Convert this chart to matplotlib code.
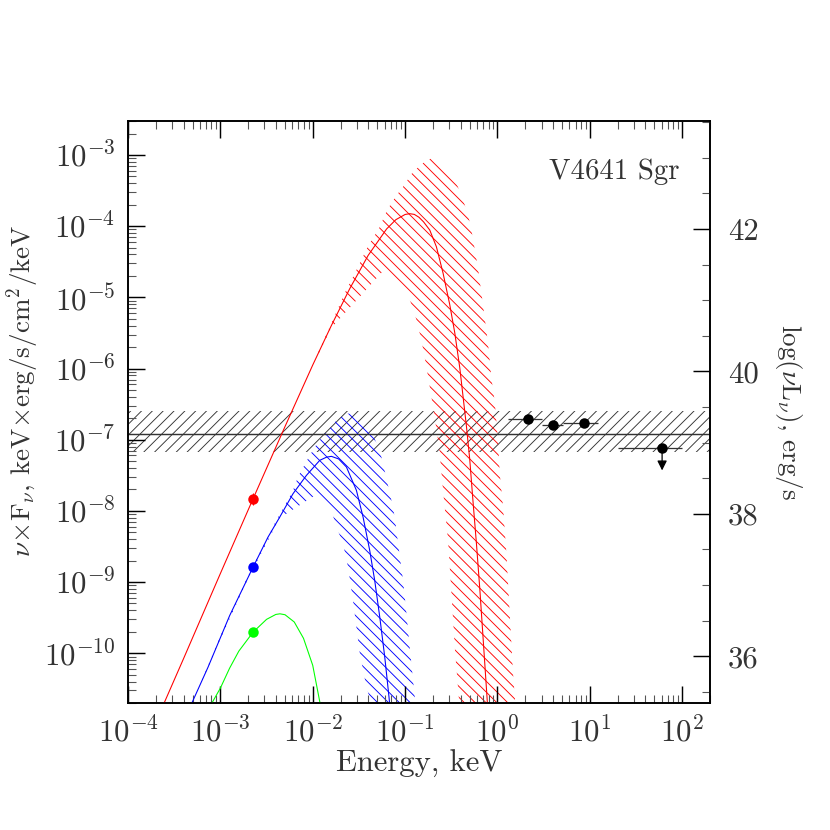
import numpy as np
import matplotlib
matplotlib.use('Agg')
import matplotlib.pyplot as plt
from matplotlib.ticker import FixedLocator, LogLocator, MultipleLocator, FuncFormatter, NullFormatter

plt.rcParams['font.family'] = ['cmr10']
plt.rcParams['mathtext.fontset'] = 'cm'
plt.rcParams['axes.formatter.use_mathtext'] = True
plt.rcParams['hatch.linewidth'] = 0.5

# ---------------- data (log10 values) ----------------
red_curve_logE = [-3.7, -3.4, -3.0, -2.646, -2.3, -2.0, -1.8, -1.6, -1.4, -1.2, -1.1, -1.0,
                  -0.95, -0.9, -0.85, -0.8, -0.733, -0.661, -0.589, -0.517, -0.462, -0.408,
                  -0.372, -0.336, -0.300, -0.264, -0.227, -0.191, -0.156, -0.113, -0.09]
red_curve_logF = [-10.97, -10.08, -8.88, -7.83, -6.815, -5.951, -5.401, -4.88, -4.411, -4.039,
                  -3.909, -3.836, -3.825, -3.835, -3.875, -3.94, -4.055, -4.29, -4.66, -5.10,
                  -5.50, -5.99, -6.40, -6.81, -7.28, -7.88, -8.47, -9.10, -9.78, -10.62, -11.1]

blue_curve_logE = [-3.45, -3.313, -3.134, -2.899, -2.646, -2.484, -2.357, -2.213, -2.068, -1.924,
                   -1.85, -1.798, -1.72, -1.635, -1.527, -1.455, -1.383, -1.329, -1.274, -1.220,
                   -1.174, -1.15]
blue_curve_logF = [-11.11, -10.712, -10.197, -9.470, -8.790, -8.368, -8.087, -7.758, -7.501, -7.290,
                   -7.245, -7.234, -7.27, -7.384, -7.712, -8.087, -8.556, -8.977, -9.494, -10.056,
                   -10.619, -10.95]

green_curve_logE = [-3.15, -3.097, -3.0, -2.9, -2.8, -2.646, -2.5, -2.4, -2.355, -2.3, -2.2,
                    -2.1, -2.0, -1.924, -1.9]
green_curve_logF = [-10.85, -10.712, -10.49, -10.21, -9.97, -9.704, -9.524, -9.455, -9.446, -9.459,
                    -9.561, -9.79, -10.17, -10.68, -10.88]

red_band_up_logE = [-1.95, -1.8, -1.65, -1.545, -1.401, -1.282, -1.195, -1.104, -1.022, -0.914,
                    -0.787, -0.715, -0.444, -0.372, -0.318, -0.282, -0.210, -0.156, -0.102, -0.065,
                    -0.029, 0.006, 0.025, 0.061, 0.097, 0.133, 0.169, 0.21]
red_band_up_logF = [-5.80, -5.37, -4.93, -4.664, -4.280, -4.031, -3.774, -3.587, -3.446, -3.235,
                    -3.094, -3.046, -3.398, -3.633, -3.844, -4.055, -4.594, -5.110, -5.648, -6.141,
                    -6.470, -7.008, -7.477, -7.946, -8.602, -9.446, -10.290, -11.0]
red_band_lo_logE = [-0.40, -0.416, -0.462, -0.498, -0.535, -0.589, -0.632, -0.697, -0.769, -0.823,
                    -0.896, -0.968, -1.239, -1.802, -1.95]
red_band_lo_logF = [-11.0, -10.665, -9.916, -9.165, -8.415, -7.712, -7.103, -6.540, -5.978, -5.602,
                    -5.226, -4.969, -4.632, -5.435, -5.83]

blue_band_up_logE = [-3.2, -3.0, -2.7, -2.43, -2.213, -2.159, -2.032, -1.942, -1.743, -1.635, -1.545,
                     -1.364, -1.274, -1.239, -1.202, -1.148, -1.112, -1.076, -1.022, -0.985, -0.950,
                     -0.895, -0.87]
blue_band_up_logF = [-10.38, -9.76, -8.91, -8.22, -7.71, -7.52, -7.219, -7.032, -6.727, -6.633, -6.633,
                     -6.892, -7.149, -7.336, -7.547, -7.852, -8.087, -8.461, -8.977, -9.446, -9.916,
                     -10.619, -11.0]
blue_band_lo_logE = [-1.35, -1.364, -1.418, -1.490, -1.527, -1.564, -1.618, -1.672, -1.743, -1.798,
                     -1.960, -2.357, -2.7, -3.0, -3.2]
blue_band_lo_logF = [-11.0, -10.712, -10.478, -10.008, -9.634, -9.259, -8.790, -8.461, -8.228, -7.993,
                     -7.77, -8.10, -8.95, -9.80, -10.40]

# optical points (keV, nuFnu)
opt_E = 2.26e-3
opt_F_red = 1.48e-8
opt_F_red_err = (0.28e-8, 0.33e-8)
opt_F_blue = 1.62e-9
opt_F_green = 1.97e-10

# X-ray flux band
xband_lo = 6.7e-8
xband_hi = 2.5e-7
xband_mid = 1.2e-7

# X-ray points
xr_E = [2.15, 4.0, 8.6]
xr_Elo = [1.31, 3.0, 5.1]
xr_Ehi = [3.0, 5.1, 12.3]
xr_F = [1.98e-7, 1.6e-7, 1.74e-7]
ul_E, ul_Elo, ul_Ehi = 60.6, 20.0, 100.0
ul_F = 7.6e-8
ul_arrow_F = 3.7e-8

# axis ticks (decades) and right-axis conversion
x_decades = [-4, -3, -2, -1, 0, 1, 2]
y_decades = [-10, -9, -8, -7, -6, -5, -4, -3]
lum_offset = 46.04   # log(nu L_nu) = log(nu F_nu) + offset
xlim = (1e-4, 200.0)
ylim = (2e-11, 3e-3)

# ---------------- figure ----------------
DPI = 130
fig = plt.figure(figsize=(830 / DPI, 830 / DPI), dpi=DPI)
ax = fig.add_axes([128 / 830, 1 - 703 / 830, 582 / 830, 582 / 830])
ax.set_xscale('log')
ax.set_yscale('log')
ax.set_xlim(*xlim)
ax.set_ylim(*ylim)

TXT = '#333333'
RED = '#ff0000'
BLUE = '#0000ff'
GREEN = '#00ff00'
HATCH_F = '////'
HATCH_B = '\\' * 4


def lin(a):
    return 10.0 ** np.asarray(a, dtype=float)


# X-ray band
ax.axhspan(xband_lo, xband_hi, facecolor='none', edgecolor='#333333', hatch=HATCH_F, lw=0, zorder=1)
ax.axhline(xband_mid, color='#333333', lw=0.8, zorder=2)

# model uncertainty bands
ax.fill(lin(red_band_up_logE + red_band_lo_logE), lin(red_band_up_logF + red_band_lo_logF),
        facecolor='none', edgecolor=RED, hatch=HATCH_B, lw=0, zorder=1)
ax.fill(lin(blue_band_up_logE + blue_band_lo_logE), lin(blue_band_up_logF + blue_band_lo_logF),
        facecolor='none', edgecolor=BLUE, hatch=HATCH_B, lw=0, zorder=1)

# model curves
ax.plot(lin(red_curve_logE), lin(red_curve_logF), color=RED, lw=0.6, zorder=3)
ax.plot(lin(blue_curve_logE), lin(blue_curve_logF), color=BLUE, lw=0.6, zorder=3)
ax.plot(lin(green_curve_logE), lin(green_curve_logF), color=GREEN, lw=0.6, zorder=3)

# optical points
ax.errorbar([opt_E], [opt_F_red], yerr=[[opt_F_red_err[0]], [opt_F_red_err[1]]], fmt='none',
            ecolor=RED, elinewidth=0.6, zorder=4)
ax.plot([opt_E], [opt_F_red], 'o', color=RED, ms=5.8, mec='none', zorder=5)
ax.plot([opt_E], [opt_F_blue], 'o', color=BLUE, ms=5.8, mec='none', zorder=5)
ax.plot([opt_E], [opt_F_green], 'o', color=GREEN, ms=5.8, mec='none', zorder=5)

# X-ray points
xr_E_a = np.array(xr_E)
ax.errorbar(xr_E, xr_F, xerr=[xr_E_a - np.array(xr_Elo), np.array(xr_Ehi) - xr_E_a],
            fmt='o', color='k', ms=5.8, mec='none', ecolor='#333333', elinewidth=0.7, capsize=0, zorder=5)
ax.errorbar([ul_E], [ul_F], xerr=[[ul_E - ul_Elo], [ul_Ehi - ul_E]],
            fmt='o', color='k', ms=5.8, mec='none', ecolor='#333333', elinewidth=0.7, capsize=0, zorder=5)
ax.annotate('', xy=(ul_E, ul_arrow_F), xytext=(ul_E, ul_F),
            arrowprops=dict(arrowstyle='-|>,head_length=0.4,head_width=0.2', color='k', lw=0.7,
                            mutation_scale=11, shrinkA=0, shrinkB=0), zorder=5)

# ticks / axes
ax.xaxis.set_major_locator(FixedLocator(lin(x_decades)))
ax.xaxis.set_minor_locator(LogLocator(base=10, subs=np.arange(2, 10), numticks=20))
ax.yaxis.set_major_locator(FixedLocator(lin(y_decades)))
ax.yaxis.set_minor_locator(LogLocator(base=10, subs=np.arange(2, 10), numticks=20))
pow_fmt = FuncFormatter(lambda v, p: r'$10^{%d}$' % int(round(np.log10(v))))
ax.xaxis.set_major_formatter(pow_fmt)
ax.yaxis.set_major_formatter(pow_fmt)
ax.xaxis.set_minor_formatter(NullFormatter())
ax.yaxis.set_minor_formatter(NullFormatter())
ax.tick_params(which='both', direction='in', top=True, bottom=True, left=True, right=False,
               colors='k', labelcolor=TXT)
ax.tick_params(which='major', length=9.4, width=0.8, labelsize=17)
ax.tick_params(axis='x', which='major', pad=8)
ax.tick_params(axis='y', which='major', pad=7)
ax.tick_params(which='minor', length=4.7, width=0.6, color='#555555')
for s in ax.spines.values():
    s.set_linewidth(0.9)

ax2 = ax.twinx()
ax2.set_ylim(np.log10(ylim[0]) + lum_offset, np.log10(ylim[1]) + lum_offset)
ax2.yaxis.set_major_locator(MultipleLocator(2))
ax2.yaxis.set_minor_locator(MultipleLocator(0.5))
ax2.yaxis.set_major_formatter(FuncFormatter(lambda v, p: '%d' % int(round(v))))
ax2.tick_params(which='both', direction='in', right=True, left=False, colors='k', labelcolor=TXT)
ax2.tick_params(which='major', length=9.4, width=0.8, labelsize=17, pad=10)
ax2.tick_params(which='minor', length=4.7, width=0.6, color='#555555')
for s in ax2.spines.values():
    s.set_linewidth(0.9)

ax.set_xlabel('Energy, keV', fontsize=17, color=TXT)
ax.xaxis.set_label_coords(0.5, -0.08)
ax.set_ylabel(r'$\nu\!\times\!$F$_\nu$, keV$\times$erg/s/cm$^2$/keV', fontsize=15, color=TXT)
ax.yaxis.set_label_coords(-0.15, 0.536)
ax2.set_ylabel(r'log($\nu$L$_\nu$), erg/s', fontsize=15, color=TXT, rotation=270, va='bottom')
ax2.yaxis.set_label_coords(1.108, 0.50)

ax.text(0.948, 0.912, 'V4641 Sgr', transform=ax.transAxes, ha='right', va='center',
        fontsize=16, color=TXT)

fig.savefig('out.png', dpi=DPI)
